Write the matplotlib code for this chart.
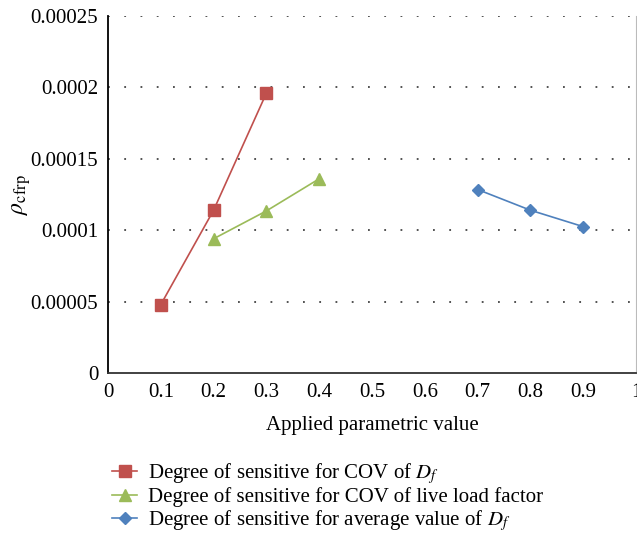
import matplotlib
matplotlib.use("Agg")
import matplotlib.pyplot as plt
from matplotlib.ticker import FixedLocator

plt.rcParams['font.family'] = ['Liberation Serif', 'DejaVu Serif']
plt.rcParams['mathtext.fontset'] = 'stix'

x_cov_df = [0.1, 0.2, 0.3]
y_cov_df = [0.0000479, 0.000114, 0.000196]
x_cov_live = [0.2, 0.3, 0.4]
y_cov_live = [0.000094, 0.0001135, 0.000136]
x_avg_df = [0.7, 0.8, 0.9]
y_avg_df = [0.0001285, 0.000114, 0.0001025]

labels = [r"Degree of sensitive for COV of $D_f$",
          "Degree of sensitive for COV of live load factor",
          r"Degree of sensitive for average value of $D_f$"]
xticks = [0, 0.1, 0.2, 0.3, 0.4, 0.5, 0.6, 0.7, 0.8, 0.9, 1]
xticklabels = ["0", "0.1", "0.2", "0.3", "0.4", "0.5", "0.6", "0.7", "0.8", "0.9", "1"]
yticks = [0, 0.00005, 0.0001, 0.00015, 0.0002, 0.00025]
yticklabels = ["0", "0.00005", "0.0001", "0.00015", "0.0002", "0.00025"]

fig = plt.figure(figsize=(6.37, 5.38), dpi=100)
ax = fig.add_axes([108/637, 165/538, 528/637, 357/538])

ax.plot(x_cov_df, y_cov_df, color='#C0504D', marker='s', markersize=9, lw=1.2, label=labels[0], clip_on=False, zorder=3)
ax.plot(x_cov_live, y_cov_live, color='#9BBB59', marker='^', markersize=9, lw=1.2, label=labels[1], clip_on=False, zorder=3)
ax.plot(x_avg_df, y_avg_df, color='#4F81BD', marker='D', markersize=6, lw=1.2, label=labels[2], clip_on=False, zorder=3)

ax.set_xlim(0, 1)
ax.set_ylim(0, 0.00025)
ax.xaxis.set_major_locator(FixedLocator(xticks))
ax.set_xticklabels(xticklabels)
ax.yaxis.set_major_locator(FixedLocator(yticks))
ax.set_yticklabels(yticklabels)
ax.tick_params(axis='both', length=0, labelsize=15, pad=7)

for yv in yticks[1:]:
    ax.axhline(yv, color='#444444', lw=1.3, linestyle=(0, (1, 8)), zorder=1)

ax.spines['top'].set_visible(False)
ax.spines['right'].set_color('#bbbbbb')
ax.spines['right'].set_linewidth(0.8)
ax.spines['left'].set_color('#000000')
ax.spines['left'].set_linewidth(1.3)
ax.spines['bottom'].set_color('#333333')
ax.spines['bottom'].set_linewidth(1.3)

ax.set_xlabel("Applied parametric value", fontsize=15, labelpad=10)
ax.set_ylabel(r"$\rho_{\mathrm{cfrp}}$", fontsize=17, labelpad=-2)

fig.legend(loc='upper left', bbox_to_anchor=(104/637, 1 - 453/538), frameon=False,
           fontsize=15, handlelength=1.2, handletextpad=0.5, labelspacing=0.05,
           borderaxespad=0)

fig.savefig("out.png", dpi=100)
